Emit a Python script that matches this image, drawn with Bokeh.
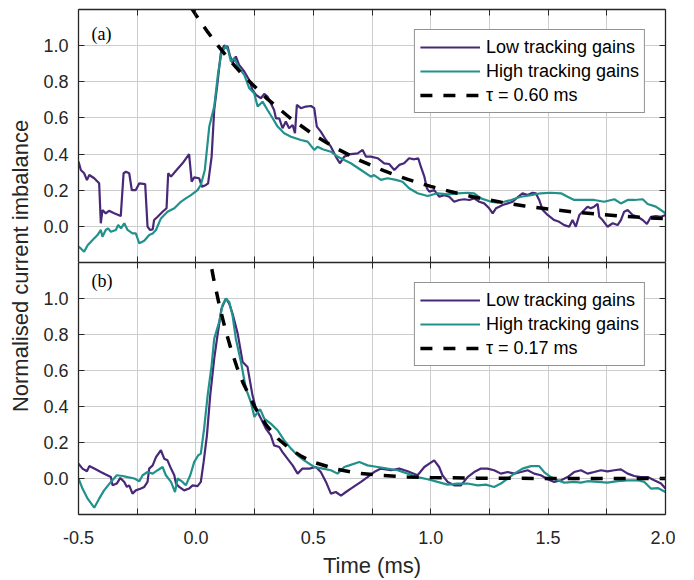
import math
from bokeh.plotting import figure
from bokeh.layouts import row, column
from bokeh.models import (Range1d, FixedTicker, LinearAxis, Label, Legend,
                          LegendItem, NumeralTickFormatter)
from bokeh.embed import file_html
from bokeh.resources import INLINE

# ---------------- data ----------------
X_TICKS = [-0.5, -0.25, 0.0, 0.25, 0.5, 0.75, 1.0, 1.25, 1.5, 1.75, 2.0]
X_BLANK = [-0.25, 0.25, 0.75, 1.25, 1.75]
Y_TICKS = [0.0, 0.2, 0.4, 0.6, 0.8, 1.0]

SERIES_NAMES = ["Low tracking gains", "High tracking gains"]
FIT_LABEL_A = "τ = 0.60 ms"
FIT_LABEL_B = "τ = 0.17 ms"

a_low_t = [-0.5,-0.49,-0.476,-0.464,-0.454,-0.433,-0.412,-0.405,-0.398,-0.384,
           -0.37,-0.348,-0.32,-0.308,-0.298,-0.284,-0.273,-0.256,-0.241,-0.216,
           -0.206,-0.196,-0.184,-0.178,-0.163,-0.142,-0.125,-0.118,-0.106,-0.085,
           -0.057,-0.029,-0.018,-0.007,0.014,0.026,0.043,0.052,0.067,0.078,
           0.092,0.106,0.12,0.135,0.146,0.156,0.17,0.184,0.206,0.227,
           0.241,0.256,0.277,0.291,0.305,0.319,0.333,0.341,0.355,0.369,
           0.383,0.397,0.412,0.422,0.43,0.447,0.468,0.49,0.504,0.515,
           0.532,0.554,0.575,0.596,0.613,0.632,0.66,0.689,0.71,0.724,
           0.745,0.774,0.802,0.823,0.845,0.866,0.887,0.908,0.93,0.947,
           0.958,0.973,0.984,0.994,1.015,1.036,1.058,1.079,1.1,1.121,
           1.143,1.164,1.185,1.207,1.228,1.249,1.264,1.278,1.292,1.306,
           1.328,1.349,1.37,1.391,1.413,1.434,1.448,1.462,1.477,1.498,
           1.526,1.547,1.569,1.59,1.604,1.618,1.633,1.654,1.668,1.682,
           1.696,1.711,1.718,1.732,1.753,1.775,1.796,1.81,1.824,1.839,
           1.86,1.881,1.903,1.921,1.938,1.959,1.981,2.0]
a_low_v = [0.358,0.312,0.294,0.256,0.284,0.266,0.238,0.017,0.09,0.072,
           0.086,0.072,0.057,0.294,0.302,0.294,0.201,0.201,0.238,0.234,
           -0.002,-0.02,-0.017,0.035,0.053,0.081,0.1,0.294,0.275,0.308,
           0.349,0.4,0.247,0.271,0.266,0.219,0.229,0.238,0.386,0.644,
           0.792,0.958,1.0,0.995,0.94,0.903,0.94,0.894,0.857,0.81,
           0.755,0.727,0.709,0.733,0.718,0.681,0.644,0.598,0.598,0.543,
           0.58,0.543,0.561,0.515,0.672,0.654,0.663,0.666,0.654,0.552,
           0.524,0.478,0.441,0.386,0.349,0.386,0.4,0.404,0.423,0.386,
           0.386,0.377,0.349,0.345,0.312,0.34,0.349,0.377,0.371,0.377,
           0.33,0.275,0.21,0.192,0.201,0.164,0.173,0.164,0.136,0.146,
           0.15,0.146,0.155,0.136,0.127,0.1,0.072,0.1,0.109,0.118,
           0.127,0.136,0.161,0.183,0.173,0.186,0.183,0.146,0.09,0.063,
           0.035,0.025,0.007,-0.002,0.035,-0.002,0.063,0.09,0.109,0.1,
           0.109,0.124,0.053,0.035,-0.002,0.017,0.007,0.035,0.081,0.09,
           0.063,0.053,0.035,0.013,0.053,0.057,0.053,0.063]

a_high_t = [-0.5,-0.49,-0.476,-0.461,-0.44,-0.419,-0.405,-0.398,-0.384,-0.374,
            -0.362,-0.341,-0.331,-0.319,-0.305,-0.291,-0.27,-0.256,-0.241,-0.22,
            -0.199,-0.184,-0.17,-0.149,-0.121,-0.092,-0.064,-0.043,-0.021,0.007,
            0.021,0.038,0.057,0.078,0.095,0.109,0.128,0.139,0.149,0.163,
            0.184,0.206,0.227,0.248,0.263,0.284,0.305,0.327,0.348,0.376,
            0.405,0.447,0.476,0.504,0.518,0.54,0.575,0.603,0.632,0.66,
            0.703,0.745,0.759,0.788,0.816,0.852,0.88,0.908,0.944,0.987,
            1.029,1.072,1.115,1.157,1.185,1.214,1.257,1.285,1.313,1.342,
            1.384,1.427,1.469,1.512,1.555,1.583,1.611,1.654,1.696,1.739,
            1.782,1.81,1.839,1.867,1.903,1.924,1.959,2.0]
a_high_v = [-0.113,-0.122,-0.141,-0.104,-0.076,-0.048,-0.02,-0.058,-0.02,-0.011,
            -0.03,-0.02,0.007,-0.011,0.017,-0.02,-0.039,-0.039,-0.094,-0.08,
            -0.048,-0.039,-0.02,0.044,0.081,0.1,0.136,0.155,0.173,0.201,
            0.229,0.312,0.552,0.663,0.853,0.958,1.0,0.967,0.912,0.931,
            0.875,0.838,0.765,0.737,0.663,0.69,0.644,0.598,0.552,0.515,
            0.496,0.478,0.469,0.423,0.441,0.427,0.413,0.386,0.367,0.349,
            0.312,0.275,0.284,0.257,0.266,0.257,0.247,0.211,0.183,0.168,
            0.183,0.177,0.183,0.186,0.183,0.155,0.136,0.131,0.136,0.146,
            0.164,0.173,0.183,0.186,0.183,0.164,0.146,0.146,0.146,0.136,
            0.15,0.127,0.146,0.146,0.15,0.124,0.109,0.072]

a_fit_t = [-0.02,0.0,0.05,0.1,0.15,0.2,0.3,0.4,0.5,0.6,0.7,0.8,0.9,1.0,
           1.1,1.2,1.3,1.4,1.5,1.6,1.7,1.8,1.9,2.0]
a_fit_v = [1.21,1.17,1.076,0.99,0.911,0.838,0.71,0.601,0.508,0.43,0.364,0.308,
           0.261,0.221,0.187,0.158,0.134,0.113,0.096,0.081,0.069,0.058,0.049,0.042]

b_low_t = [-0.5,-0.483,-0.464,-0.454,-0.433,-0.405,-0.384,-0.362,-0.355,-0.337,
           -0.322,-0.305,-0.294,-0.284,-0.27,-0.256,-0.234,-0.22,-0.206,-0.199,
           -0.184,-0.17,-0.149,-0.135,-0.121,-0.106,-0.092,-0.085,-0.071,-0.05,
           -0.029,-0.014,0.007,0.021,0.033,0.047,0.061,0.078,0.092,0.109,
           0.128,0.142,0.156,0.178,0.199,0.22,0.241,0.256,0.277,0.298,
           0.319,0.333,0.355,0.369,0.39,0.412,0.433,0.454,0.483,0.511,
           0.532,0.554,0.575,0.596,0.618,0.639,0.66,0.703,0.731,0.759,
           0.788,0.831,0.866,0.902,0.944,0.973,0.994,1.015,1.036,1.05,
           1.072,1.1,1.129,1.157,1.185,1.214,1.242,1.27,1.299,1.328,
           1.356,1.384,1.413,1.441,1.469,1.498,1.526,1.555,1.583,1.611,
           1.64,1.668,1.696,1.725,1.753,1.782,1.81,1.839,1.867,1.895,
           1.924,1.952,1.981,2.0]
b_low_v = [0.083,0.055,0.04,0.069,0.055,0.036,0.022,0.008,-0.038,-0.028,
           0.003,-0.019,-0.047,-0.038,-0.084,-0.066,-0.056,-0.047,-0.019,0.055,
           0.073,0.119,0.157,0.11,0.101,0.055,0.018,-0.028,-0.047,-0.066,
           -0.056,-0.038,-0.042,-0.019,0.092,0.24,0.462,0.666,0.796,0.944,
           1.0,0.972,0.916,0.805,0.647,0.619,0.462,0.388,0.333,0.277,
           0.24,0.184,0.175,0.147,0.11,0.073,0.027,0.055,0.055,0.064,
           0.036,-0.019,-0.084,-0.075,-0.095,-0.075,-0.056,-0.019,0.008,0.036,
           0.055,0.046,0.055,0.04,0.018,0.064,0.083,0.101,0.064,0.018,
           -0.019,-0.038,-0.038,0.008,0.036,0.055,0.055,0.046,0.027,0.036,
           0.027,0.036,0.046,0.027,0.018,-0.004,-0.019,-0.01,0.008,0.036,
           0.046,0.027,0.036,0.046,0.04,0.046,0.051,0.027,0.014,0.008,
           0.008,-0.01,-0.028,-0.056]

b_high_t = [-0.5,-0.483,-0.461,-0.433,-0.412,-0.391,-0.362,-0.337,-0.312,-0.291,
            -0.262,-0.241,-0.227,-0.206,-0.184,-0.163,-0.142,-0.128,-0.106,-0.089,
            -0.078,-0.057,-0.043,-0.024,-0.007,0.01,0.021,0.035,0.05,0.067,
            0.078,0.099,0.113,0.128,0.142,0.156,0.17,0.192,0.213,0.234,
            0.249,0.263,0.274,0.291,0.319,0.348,0.376,0.405,0.433,0.461,
            0.504,0.54,0.575,0.603,0.632,0.653,0.696,0.731,0.774,0.816,
            0.859,0.902,0.944,0.987,1.029,1.072,1.115,1.157,1.2,1.235,
            1.27,1.299,1.328,1.356,1.391,1.427,1.462,1.483,1.512,1.541,
            1.569,1.611,1.64,1.668,1.711,1.753,1.796,1.839,1.881,1.91,
            1.938,1.967,2.0]
b_high_v = [0.0,-0.056,-0.112,-0.162,-0.112,-0.066,-0.019,0.018,0.014,0.008,
            0.0,-0.015,0.018,0.036,0.027,0.046,0.064,0.018,-0.019,-0.075,
            0.0,-0.019,-0.038,0.018,0.092,0.129,0.138,0.277,0.462,0.629,
            0.777,0.869,0.962,1.0,0.981,0.907,0.777,0.647,0.499,0.425,
            0.342,0.369,0.384,0.333,0.305,0.268,0.212,0.166,0.129,0.101,
            0.064,0.055,0.046,0.027,0.064,0.073,0.092,0.073,0.064,0.055,
            0.046,0.027,0.008,-0.004,-0.019,-0.034,-0.028,-0.028,-0.038,-0.034,
            -0.047,-0.028,0.0,0.027,0.055,0.069,0.069,0.036,0.008,-0.01,
            -0.023,-0.019,-0.023,-0.015,-0.019,-0.023,-0.015,-0.01,-0.01,-0.019,
            -0.056,-0.053,-0.075]

b_fit_t = [0.05,0.075,0.1,0.125,0.15,0.175,0.2,0.25,0.3,0.35,0.4,0.45,0.5,
           0.6,0.7,0.8,0.9,1.0,1.2,1.5,2.0]
b_fit_v = [1.289,1.113,0.961,0.83,0.716,0.618,0.534,0.398,0.296,0.221,0.165,
           0.123,0.091,0.051,0.028,0.016,0.009,0.005,0.002,0.0,0.0]

# ---------------- style ----------------
PURPLE = "#482878"
TEAL = "#21918c"
AX = "#262626"
GRID = "#cdcdcd"
FONT = "Liberation Sans"
FW = 587
TOP_PAD = 9


def make_axis(ticks, show, standoff=10):
    ax = LinearAxis(ticker=FixedTicker(ticks=ticks))
    ax.major_tick_in = 6
    ax.major_tick_out = 0
    ax.minor_tick_in = 0
    ax.minor_tick_out = 0
    ax.axis_line_color = AX
    ax.axis_line_width = 1.3
    ax.major_tick_line_color = AX
    ax.major_tick_line_width = 1
    if show:
        ax.major_label_text_font = FONT
        ax.major_label_text_font_size = "18px"
        ax.major_label_text_color = AX
        ax.major_label_standoff = standoff
        ax.formatter = NumeralTickFormatter(format="0.0")
    else:
        ax.major_label_overrides = {t: "" for t in ticks}
        ax.major_label_text_font_size = "1px"
        ax.major_label_standoff = 0
    return ax


def make_panel(tag, tag_y, low_t, low_v, high_t, high_v, fit_t, fit_v, fit_label,
               bottom, frame_h):
    p = figure(frame_width=FW, frame_height=frame_h,
               x_range=Range1d(-0.5, 2.0), y_range=Range1d(-0.2, 1.2),
               output_backend="svg", toolbar_location=None,
               x_axis_location=None, y_axis_location=None,
               min_border_left=45, min_border_right=10,
               min_border_top=0 if bottom else TOP_PAD, min_border_bottom=0,
               background_fill_color="white", border_fill_color="white",
               outline_line_color=None)

    below = make_axis(X_TICKS, bottom, standoff=16)
    above = make_axis(X_TICKS, False)
    left = make_axis(Y_TICKS, True, standoff=10)
    right = make_axis(Y_TICKS, False)
    if bottom:
        below.major_label_overrides = {t: "" for t in X_BLANK}
        below.axis_label = "Time (ms)"
        below.axis_label_text_font = FONT
        below.axis_label_text_font_size = "22px"
        below.axis_label_text_font_style = "normal"
        below.axis_label_text_color = AX
        below.axis_label_standoff = 6
    p.add_layout(below, "below")
    p.add_layout(above, "above")
    p.add_layout(left, "left")
    p.add_layout(right, "right")

    p.xgrid.ticker = FixedTicker(ticks=X_TICKS)
    p.ygrid.ticker = FixedTicker(ticks=Y_TICKS)
    p.grid.grid_line_color = GRID
    p.grid.grid_line_width = 1

    r1 = p.line(low_t, low_v, line_color=PURPLE, line_width=2.2)
    r2 = p.line(high_t, high_v, line_color=TEAL, line_width=2.2)
    r3 = p.line(fit_t, fit_v, line_color="black", line_width=3.5, line_dash="12 11")

    legend = Legend(items=[LegendItem(label=SERIES_NAMES[0], renderers=[r1]),
                           LegendItem(label=SERIES_NAMES[1], renderers=[r2]),
                           LegendItem(label=fit_label, renderers=[r3])],
                    location="top_right", margin=20, padding=5, spacing=0,
                    label_height=24, glyph_height=24, glyph_width=60,
                    label_standoff=6, label_text_font=FONT,
                    label_text_font_size="18px", label_text_color="black",
                    border_line_color=AX, border_line_width=1,
                    background_fill_color="white", background_fill_alpha=1.0)
    p.add_layout(legend)

    p.add_layout(Label(x=-0.445, y=tag_y, text=tag, text_font="Liberation Serif",
                       text_font_size="18px", text_baseline="middle",
                       text_color="black"))
    return p


fig_a = make_panel("(a)", 1.065, a_low_t, a_low_v, a_high_t, a_high_v,
                   a_fit_t, a_fit_v, FIT_LABEL_A, False, 253)
fig_b = make_panel("(b)", 1.096, b_low_t, b_low_v, b_high_t, b_high_v,
                   b_fit_t, b_fit_v, FIT_LABEL_B, True, 252)

TOTAL_H = 580
ylab = figure(width=33, height=TOTAL_H, x_range=Range1d(0, 33), y_range=Range1d(0, TOTAL_H),
              output_backend="svg", toolbar_location=None, min_border=0,
              x_axis_location=None, y_axis_location=None,
              outline_line_color=None, background_fill_color="white",
              border_fill_color="white")
ylab.grid.visible = False
ylab.add_layout(Label(x=20, y=TOTAL_H - 265.5, text="Normalised current imbalance",
                      angle=math.pi / 2, text_align="center", text_baseline="middle",
                      text_font=FONT, text_font_size="22px", text_color=AX))

layout = row(ylab, column(fig_a, fig_b))

with open("out.html", "w") as f:
    f.write(file_html(layout, INLINE, title="Normalised current imbalance"))
